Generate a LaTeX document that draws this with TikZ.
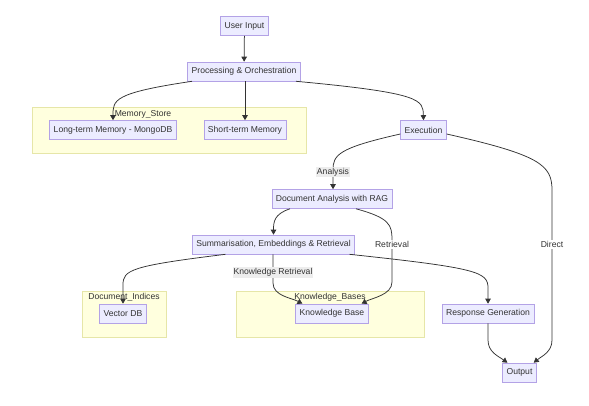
\documentclass[tikz,border=0pt]{standalone}
\usepackage{fontspec}
\setmainfont{Liberation Sans}
\usepackage{xcolor}
\usetikzlibrary{arrows.meta}

\definecolor{nodefill}{HTML}{ECECFF}
\definecolor{nodeline}{HTML}{B3A2E6}
\definecolor{clusterfill}{HTML}{FFFFDE}
\definecolor{clusterline}{HTML}{E6E6A8}
\definecolor{edgeline}{HTML}{333333}
\definecolor{labelgray}{HTML}{EDEDED}

\tikzset{
  box/.style={draw=nodeline, fill=nodefill, line width=0.6pt, minimum height=19pt,
    inner xsep=4pt, text=edgeline, font=\fontsize{8.6}{10}\selectfont},
  cluster/.style={draw=clusterline, fill=clusterfill, line width=0.6pt},
  clusterlabel/.style={text=edgeline, font=\fontsize{8.6}{10}\selectfont, inner sep=1pt},
  arr/.style={-{Triangle[length=5pt,width=5.5pt]}, draw=edgeline, line width=0.75pt},
  lbl/.style={fill=white, text=edgeline, font=\fontsize{8.6}{10}\selectfont, inner sep=1pt},
  lblgray/.style={lbl, fill=labelgray}
}

\begin{document}
\begin{tikzpicture}[x=1pt, y=-1pt]
	\useasboundingbox (0,0) rectangle (589,405);

	% subgraphs
	\draw[cluster] (32,107) rectangle (306,153);
	\node[clusterlabel] (memlabel) at (143,114) {Memory\_Store};
	\draw[cluster] (82,291) rectangle (166,337);
	\node[clusterlabel] (doclabel) at (124,297) {Document\_Indices};
	\draw[cluster] (236,291) rectangle (424,337);
	\node[clusterlabel] (kblabel) at (330,297) {Knowledge\_Bases};

	% nodes
	\node[box] (inp) at (244.5,26) {User Input};
	\node[box] (proc) at (244,71.5) {Processing \& Orchestration};
	\node[box] (ltm) at (113,130) {Long-term Memory - MongoDB};
	\node[box] (stm) at (245,130) {Short-term Memory};
	\node[box] (exe) at (423.5,130) {Execution};
	\node[box] (docA) at (332,199) {Document Analysis with RAG};
	\node[box] (summ) at (273.5,244.5) {Summarisation, Embeddings \& Retrieval};
	\node[box] (vdb) at (123,313.5) {Vector DB};
	\node[box] (kb) at (332,313.5) {Knowledge Base};
	\node[box] (resp) at (488,313.5) {Response Generation};
	\node[box] (out) at (519.5,372.5) {Output};

	% edges
	\draw[arr] (inp) -- (proc);
	\draw[arr] ([xshift=-52pt]proc.south) .. controls (113,93) and (113,100) .. (ltm.north);
	\draw[arr] (proc.south -| stm.north) -- (stm.north);
	\draw[arr] ([xshift=52pt]proc.south) .. controls (423,93) and (423,100) .. (exe.north);
	\draw[arr] ([yshift=-4pt]exe.west) .. controls (338,148) and (333,155) .. (333,170) -- (docA.north -| 333,0);
	\draw[arr] ([yshift=-4pt]exe.east) .. controls (540,155) and (552,165) .. (552,190)
		-- (552,340) .. controls (552,352) and (542,356) .. ([xshift=-3pt]out.north east);
	\draw[arr] ([xshift=-42pt]docA.south) .. controls (274,214) and (273.5,222) .. (summ.north);
	\draw[arr] ([xshift=24pt]docA.south) .. controls (390,218) and (392,225) .. (392,240)
		-- (392,282) .. controls (392,295) and (372,298) .. ([xshift=-7pt]kb.north east);
	\draw[arr] ([xshift=-48pt]summ.south) .. controls (130,266) and (123,270) .. (123,285) -- (vdb.north);
	\draw[arr] (summ.south -| 273,0) -- (273,283) .. controls (273,296) and (292,298) .. ([xshift=7pt]kb.north west);
	\draw[arr] ([xshift=76pt]summ.south) .. controls (478,268) and (488,272) .. (488,288) -- (resp.north);
	\draw[arr] (resp.south) -- (488,340) .. controls (488,352) and (498,356) .. ([xshift=-12pt]out.north);

	% edge labels
	\node[lblgray] (lana) at (333,172) {Analysis};
	\node[lbl] (lret) at (392,244.5) {Retrieval};
	\node[lbl] (ldir) at (552,244.5) {Direct};
	\node[lblgray] (lkr) at (273,272.5) {Knowledge Retrieval};
\end{tikzpicture}
\end{document}
